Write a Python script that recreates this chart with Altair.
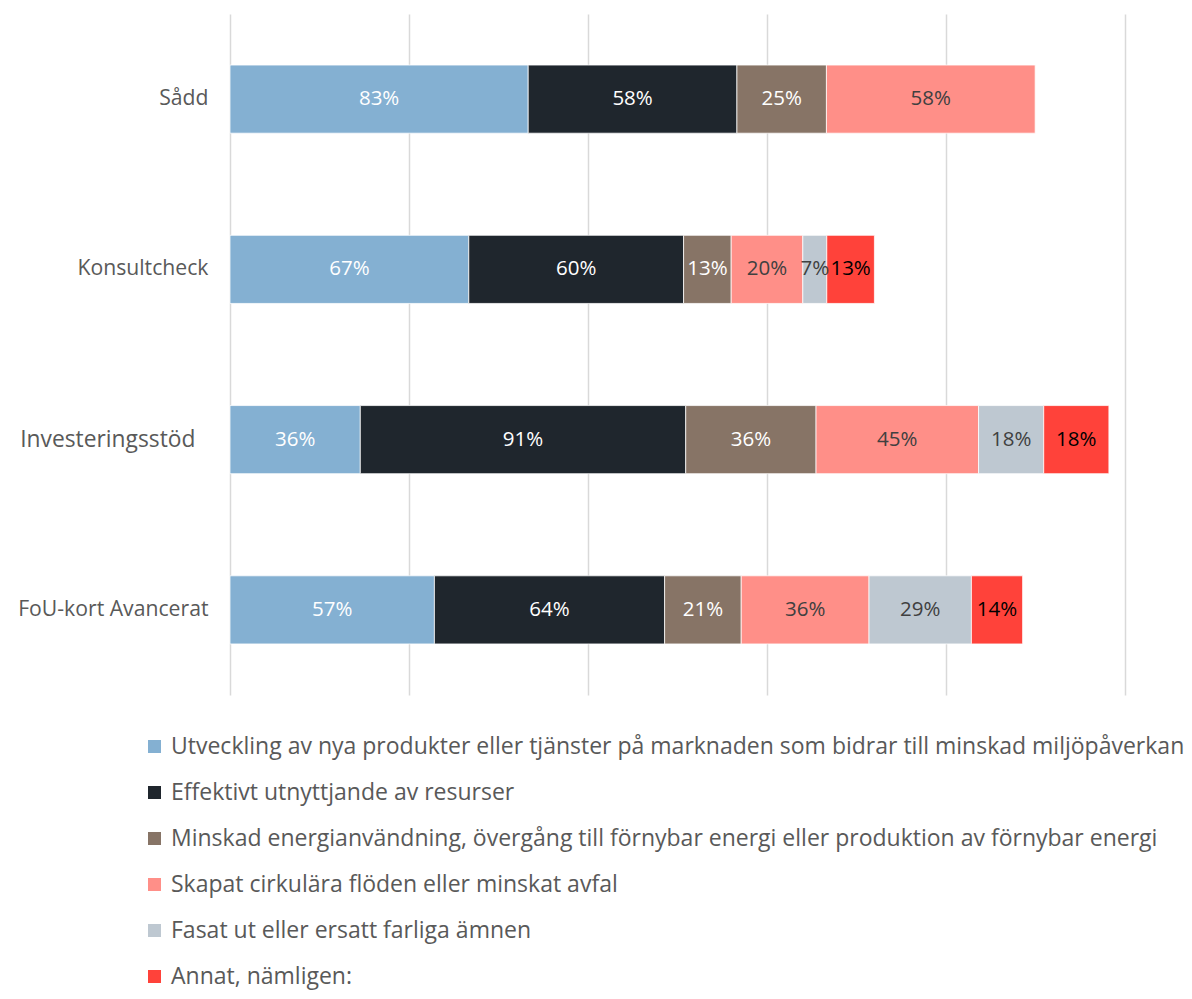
import altair as alt
import pandas as pd

categories = ["Sådd", "Konsultcheck", "Investeringsstöd", "FoU-kort Avancerat"]
series = [
    "Utveckling av nya produkter eller tjänster på marknaden som bidrar till minskad miljöpåverkan",
    "Effektivt utnyttjande av resurser",
    "Minskad energianvändning, övergång till förnybar energi eller produktion av förnybar energi",
    "Skapat cirkulära flöden eller minskat avfal",
    "Fasat ut eller ersatt farliga ämnen",
    "Annat, nämligen:",
]
values = {
    series[0]: [83.3, 66.7, 36.4, 57.1],
    series[1]: [58.3, 60.0, 90.9, 64.3],
    series[2]: [25.0, 13.3, 36.4, 21.4],
    series[3]: [58.3, 20.0, 45.4, 35.7],
    series[4]: [None, 6.7, 18.2, 28.6],
    series[5]: [None, 13.3, 18.2, 14.3],
}
colors = ["#84B0D2", "#1F262D", "#877466", "#FF8F88", "#BEC8D1", "#FF423A"]
label_colors = ["#FFFFFF", "#FFFFFF", "#FFFFFF", "#404040", "#404040", "#000000"]

rows = []
for si, s in enumerate(series):
    for ci, c in enumerate(categories):
        v = values[s][ci]
        if v is None:
            continue
        rows.append({"cat": c, "series": s, "order": si, "value": v,
                     "lc": label_colors[si]})
df = pd.DataFrame(rows)

FONT = "Open Sans"

base = alt.Chart(df).transform_stack(
    stack="value", as_=["x0", "x1"], groupby=["cat"],
    sort=[alt.SortField("order", order="ascending")]
).transform_calculate(
    mid="(datum.x0 + datum.x1) / 2",
    label="format(datum.value, '.0f') + '%'",
)

yenc = alt.Y("cat:N", sort=categories, title=None,
             scale=alt.Scale(paddingInner=0.6, paddingOuter=0.3),
             axis=alt.Axis(domain=False, ticks=False,
                           labelPadding=alt.ExprRef(expr="datum.value == 'Investeringsstöd' ? 35 : 22"),
                           labelFont=FONT, labelColor="#595959",
                           labelFontSize=alt.ExprRef(expr="datum.value == 'Investeringsstöd' ? 22.8 : 21.2"),
                           labelLimit=400))

bars = base.mark_bar(stroke="white", strokeWidth=0.75).encode(
    x=alt.X("x0:Q", scale=alt.Scale(domain=[0, 250], nice=False), title=None,
            axis=alt.Axis(values=[0, 50, 100, 150, 200, 250], labels=False, ticks=False,
                          domain=False, grid=True, gridColor="#D9D9D9", gridWidth=1.5)),
    x2="x1:Q",
    y=yenc,
    color=alt.Color("series:N", sort=series,
                    scale=alt.Scale(domain=series, range=colors),
                    legend=alt.Legend(title=None, orient="none", legendX=-87, legendY=721,
                                      direction="vertical", symbolType="square",
                                      symbolSize=169, symbolStrokeWidth=0,
                                      labelFont=FONT, labelFontSize=23, labelColor="#595959",
                                      labelLimit=1200, labelOffset=5, rowPadding=22,
                                      padding=0)),
    order=alt.Order("order:Q"),
)

texts = base.mark_text(font=FONT, fontSize=20.5).encode(
    x=alt.X("mid:Q"),
    y=alt.Y("cat:N", sort=categories),
    text="label:N",
    color=alt.Color("lc:N", scale=None),
)

chart = alt.layer(bars, texts).properties(
    width=895, height=681,
    autosize=alt.AutoSizeParams(type="none"),
    padding={"left": 222, "top": 6, "right": 59, "bottom": 296},
).configure_view(stroke=None)

chart.save("out.html", embed_options={"renderer": "svg", "actions": False})
